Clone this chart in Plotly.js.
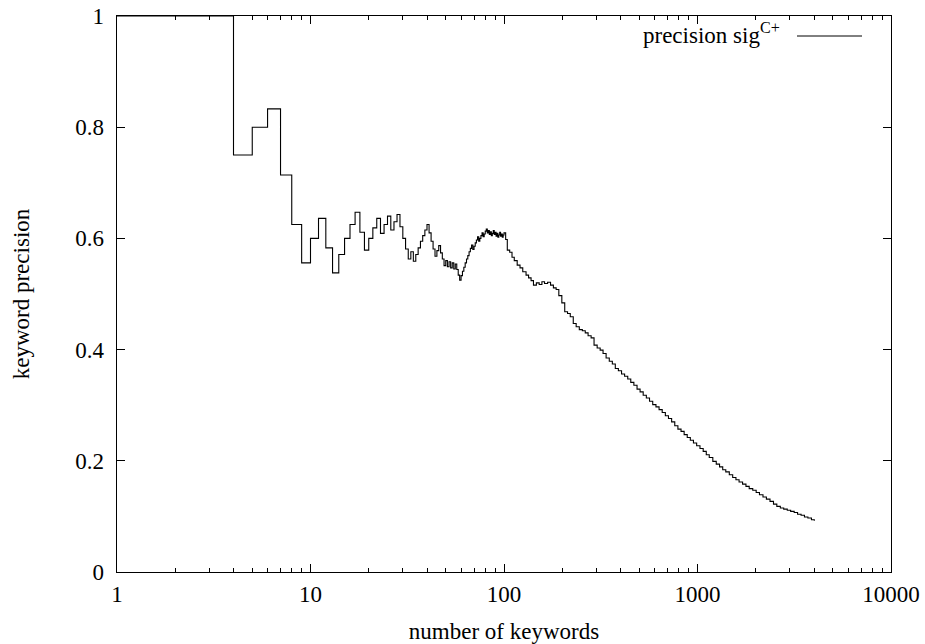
<!DOCTYPE html>
<html>
<head>
<meta charset="utf-8">
<script src="https://cdn.plot.ly/plotly-3.0.1.min.js"></script>
<style>
html,body{margin:0;padding:0;background:#fff;}
#chart{width:925px;height:644px;}
</style>
</head>
<body>
<div id="chart"></div>
<script>
// number of keywords (rank) for the step section
const headRanks = [1,2,3,4,5,6,7,8,9,10,
  11,12,13,14,15,16,17,18,19,20,
  21,22,23,24,25,26,27,28,29,30,
  31,32,33,34,35,36,37,38,39,40,
  41,42,43,44,45,46,47,48,49,50,
  51,52,53,54,55,56,57,58,59,60,
  61,62,63,64,65,66,67,68,69,70,
  71,72,73,74,75,76,77,78,79,80,
  81,82,83,84,85,86,87,88,89,90,
  91,92,93,94,95,96,97,98,99,100];
const headPrecision = [1,1,1,0.75,0.8,0.833,0.714,0.625,0.556,0.6,
  0.636,0.583,0.538,0.571,0.6,0.625,0.647,0.611,0.579,0.6,
  0.619,0.636,0.609,0.625,0.64,0.615,0.63,0.643,0.621,0.6,
  0.581,0.563,0.576,0.559,0.571,0.583,0.595,0.605,0.615,0.625,
  0.61,0.595,0.581,0.568,0.578,0.587,0.574,0.563,0.551,0.56,
  0.549,0.558,0.547,0.556,0.545,0.554,0.544,0.534,0.525,0.533,
  0.541,0.548,0.556,0.563,0.569,0.576,0.582,0.588,0.58,0.586,
  0.592,0.597,0.603,0.595,0.6,0.605,0.61,0.603,0.608,0.613,
  0.617,0.61,0.614,0.607,0.612,0.605,0.609,0.614,0.607,0.611,
  0.604,0.609,0.602,0.606,0.611,0.604,0.608,0.602,0.606,0.61];
// sampled tail (ranks above 100)
const tailRanks = [102,104,107,110,113,117,121,125,130,134,138,142,147,152,157,162,168,174,180,186,
  192,199,206,213,220,228,236,245,254,263,272,282,292,303,314,325,337,350,363,376,
  390,405,420,436,452,469,487,505,524,544,565,587,610,633,657,682,708,735,763,792,
  822,853,885,918,953,990,1030,1070,1110,1150,1200,1250,1300,1350,1400,1460,1520,1580,1640,1710,
  1780,1850,1930,2010,2090,2180,2270,2370,2470,2570,2680,2790,2910,3030,3160,3290,3430,3570,3720,3880,4015];
const tailPrecision = [0.598,0.579,0.575,0.566,0.56,0.552,0.547,0.54,0.534,0.529,0.524,0.516,0.52,0.517,0.522,0.519,0.521,0.516,0.511,0.508,
  0.497,0.484,0.468,0.465,0.459,0.447,0.441,0.436,0.434,0.43,0.425,0.421,0.408,0.403,0.399,0.393,0.385,0.379,0.374,0.366,
  0.362,0.356,0.352,0.347,0.341,0.336,0.329,0.324,0.318,0.313,0.307,0.301,0.297,0.292,0.287,0.281,0.276,0.27,0.263,0.257,
  0.253,0.247,0.242,0.237,0.232,0.227,0.222,0.217,0.211,0.206,0.199,0.194,0.189,0.184,0.18,0.175,0.17,0.166,0.162,0.158,
  0.154,0.15,0.147,0.143,0.139,0.135,0.131,0.127,0.122,0.118,0.115,0.113,0.111,0.109,0.107,0.104,0.102,0.099,0.097,0.094,0.092];
const xTickVals = [1,10,100,1000,10000];
const xTickText = ['1','10','100','1000','10000'];
const seriesName = 'precision sig<sup>C+</sup>';

const trace = {
  x: headRanks.concat(tailRanks),
  y: headPrecision.concat(tailPrecision),
  type: 'scatter',
  mode: 'lines',
  line: {shape: 'hv', color: '#000', width: 1.1},
  name: seriesName,
  showlegend: false,
  hoverinfo: 'skip'
};

const font = {family: '"Liberation Serif", "DejaVu Serif", serif', size: 23, color: '#000'};
const L = 117, R = 891, T = 16, B = 572;
const px2paperX = p => (p - L) / (R - L);
const px2paperY = p => (B - p) / (B - T);

const layout = {
  width: 925, height: 644,
  margin: {l: L, r: 925 - R, t: T, b: 644 - B, pad: 0},
  paper_bgcolor: '#fff', plot_bgcolor: '#fff',
  font: font,
  showlegend: false,
  xaxis: {
    type: 'log', range: [0, 4],
    tickvals: xTickVals, ticktext: xTickText,
    ticks: 'inside', ticklen: 8, tickwidth: 1, tickcolor: '#000',
    minor: {ticks: 'inside', ticklen: 4, tickwidth: 1, tickcolor: '#000', dtick: 'D1', showgrid: false},
    showline: true, linecolor: '#000', linewidth: 1.3, mirror: 'allticks',
    showgrid: false, zeroline: false,
    ticklabelstandoff: 1,
    tickfont: font,
    title: {text: 'number of keywords', font: font, standoff: 17}
  },
  yaxis: {
    range: [0, 1], dtick: 0.2, tick0: 0,
    ticks: 'inside', ticklen: 8, tickwidth: 1, tickcolor: '#000',
    showline: true, linecolor: '#000', linewidth: 1.3, mirror: 'allticks',
    showgrid: false, zeroline: false,
    ticklabelstandoff: 7,
    tickfont: font,
    title: {text: 'keyword precision', font: font, standoff: 39}
  },
  annotations: [{
    xref: 'paper', yref: 'paper',
    x: px2paperX(782), y: px2paperY(33),
    xanchor: 'right', yanchor: 'middle',
    text: seriesName, showarrow: false, font: font
  }],
  shapes: [{
    type: 'line', xref: 'paper', yref: 'paper',
    x0: px2paperX(797), x1: px2paperX(862),
    y0: px2paperY(36), y1: px2paperY(36),
    line: {color: '#000', width: 1}
  }]
};

Plotly.newPlot('chart', [trace], layout, {staticPlot: true, displayModeBar: false});
</script>
</body>
</html>
